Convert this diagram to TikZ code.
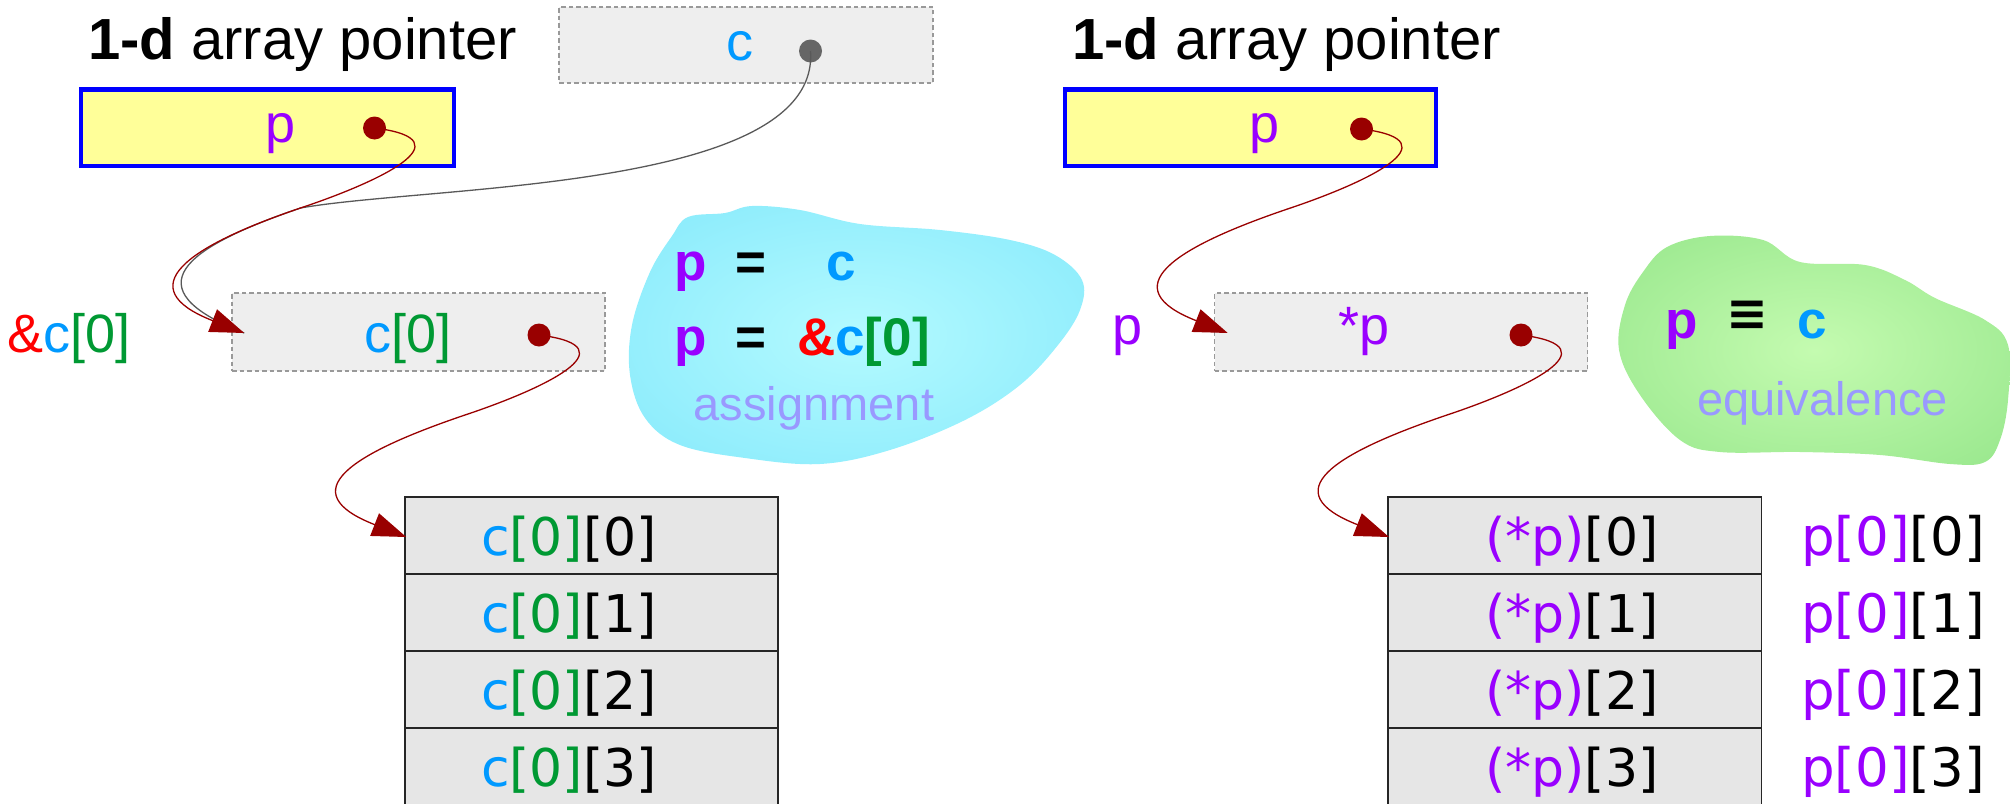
\documentclass[tikz,border=0pt]{standalone}
\usepackage{fontspec}
\setmainfont{Liberation Sans}
\newfontfamily\dvfont{DejaVu Sans}
\usetikzlibrary{arrows.meta,calc}
\definecolor{cpur}{HTML}{9900FF}
\definecolor{cblu}{HTML}{0099FF}
\definecolor{cgrn}{HTML}{009933}
\definecolor{cred}{HTML}{FF0000}
\definecolor{clav}{HTML}{9999FF}
\definecolor{cdred}{HTML}{990000}
\definecolor{cdot}{HTML}{666666}
\definecolor{cyel}{HTML}{FFFF99}
\definecolor{cbox}{HTML}{EEEEEE}
\definecolor{ccell}{HTML}{E6E6E6}
\definecolor{bin}{HTML}{B4FAFF}
\definecolor{bout}{HTML}{74E3FA}
\definecolor{gin}{HTML}{C4FBB0}
\definecolor{gout}{HTML}{86DF7E}
\pgfdeclareradialshading{blueblob}{\pgfpoint{0bp}{0bp}}{color(0bp)=(bin); color(50bp)=(bout); color(75bp)=(bout)}
\pgfdeclareradialshading{greenblob}{\pgfpoint{0bp}{0bp}}{color(0bp)=(gin); color(50bp)=(gout); color(75bp)=(gout)}
\begin{document}
\begin{tikzpicture}[x=1pt,y=-1pt,
  ybox/.style={draw=blue, fill=cyel, line width=4.5pt, inner sep=0pt, minimum height=76.5pt},
  dbox/.style={draw=black!40, fill=cbox, line width=1.5pt, dash pattern=on 4.5pt off 3pt, inner sep=0pt, minimum height=77pt},
  cellbox/.style={draw=black!85, fill=ccell, line width=1.5pt, inner sep=0pt, minimum height=77pt},
  rdot/.style={circle, fill=cdred, inner sep=0pt, minimum size=23pt},
  gdot/.style={circle, fill=cdot, inner sep=0pt, minimum size=23pt},
  ttl/.style={inner sep=0pt, anchor=base west, font=\fontsize{58}{64}\selectfont},
  t54/.style={inner sep=0pt, anchor=base, font=\fontsize{54}{60}\selectfont},
  d52/.style={inner sep=0pt, anchor=base, font=\dvfont\fontsize{52}{60}\selectfont},
  d53/.style={inner sep=0pt, anchor=base, font=\dvfont\fontsize{53}{60}\selectfont},
  b53/.style={inner sep=0pt, anchor=base west, font=\bfseries\fontsize{53}{60}\selectfont},
  l47/.style={inner sep=0pt, anchor=base, text=clav, font=\fontsize{47}{54}\selectfont},
  rarrow/.style={draw=cdred, line width=1.3pt, -{Triangle[length=34pt,width=24pt]}},
  garrow/.style={draw=black!65, line width=1.3pt}
]
\useasboundingbox (0,0) rectangle (2010,803);

% blobs
\shade[shading=blueblob] plot[smooth cycle, tension=0.6] coordinates {
  (688,217) (725,213) (752,206) (800,210) (860,224) (940,230) (1010,240)
  (1055,255) (1082,280) (1080,310) (1058,345) (1020,385) (965,420) (890,450)
  (820,464) (745,458) (680,445) (645,418) (630,375) (632,325) (650,272) (672,236)};
\shade[shading=greenblob] plot[smooth cycle, tension=0.6] coordinates {
  (1667,247) (1710,236) (1763,240) (1800,262) (1865,265) (1905,280) (1935,298)
  (1985,320) (2008,345) (2008,400) (2000,440) (1985,462) (1950,464) (1880,455)
  (1800,452) (1720,452) (1680,440) (1640,395) (1619,350) (1625,305) (1643,272)};

% titles
\node[ttl] (tl) at (88,59) {\textbf{1-d} array pointer};
\node[ttl] (tr) at (1072,59) {\textbf{1-d} array pointer};

% top c box
\node[dbox, minimum width=374pt, minimum height=76pt] (cb) at (746,45) {};
\node[t54, text=cblu] (cbt) at (740,60) {c};
\node[gdot] (cd) at (810.5,51) {};

% yellow pointer boxes
\node[ybox, minimum width=373pt] (pL) at (267.5,127.75) {};
\node[t54, text=cpur] (pLt) at (280.5,142) {p};
\node[rdot] (pLd) at (374.5,128) {};
\node[ybox, minimum width=371pt] (pR) at (1250.5,127.75) {};
\node[t54, text=cpur] (pRt) at (1264,142) {p};
\node[rdot] (pRd) at (1361.5,129) {};

% middle boxes
\node[dbox, minimum width=373pt, minimum height=78pt] (mL) at (418.5,332) {};
\node[t54] (mLt) at (408,352) {\textcolor{cblu}{c}\textcolor{cgrn}{[0]}};
\node[rdot] (mLd) at (539,335) {};
\node[t54] (amp) at (69,352) {\textcolor{cred}{\&}\textcolor{cblu}{c}\textcolor{cgrn}{[0]}};

\node[dbox, minimum width=373pt, minimum height=78pt] (mR) at (1401,332) {};
\node[t54, text=cpur] (mRt) at (1364,344) {*p};
\node[rdot] (mRd) at (1521,335) {};
\node[t54, text=cpur] (plab) at (1127.5,344) {p};

% arrays
\foreach \i in {0,...,3}{
  \node[cellbox, minimum width=373pt] (cl\i) at (591.5,535.5+77*\i) {};
  \node[d52] (clt\i) at (569,555+77*\i) {\textcolor{cblu}{c}\textcolor{cgrn}{[0]}[\i]};
  \node[cellbox, minimum width=373.5pt] (cr\i) at (1574.5,535.5+77*\i) {};
  \node[d52] (crt\i) at (1572,555+77*\i) {\textcolor{cpur}{(*p)}[\i]};
  \node[d53] (prt\i) at (1893,555+77*\i) {\textcolor{cpur}{p[0]}[\i]};
}

% blob texts
\node[b53, text=cpur] (a1p) at (674,280) {p};
\node[b53] (a1e) at (735,280) {=};
\node[b53, text=cblu] (a1c) at (826,280) {c};
\node[b53, text=cpur] (a2p) at (674,355) {p};
\node[b53] (a2e) at (735,355) {=};
\node[b53] (a2c) at (797,355) {\textcolor{cred}{\&}\textcolor{cblu}{c}\textcolor{cgrn}{[0]}};
\node[l47] (asg) at (814,420) {assignment};

\node[b53, text=cpur] (e1p) at (1665,338) {p};
\node[inner sep=0pt, font=\dvfont\bfseries\fontsize{50}{60}\selectfont] (e1e) at (1747.5,315.5) {≡};
\node[b53, text=cblu] (e1c) at (1797,338) {c};
\node[l47] (eqv) at (1822.5,415) {equivalence};

% arrow targets
\coordinate (t1) at ($(mL.west)+(13,1)$);
\coordinate (t2) at ($(mR.west)+(14,1)$);
\coordinate (t3) at ($(cl0.west)+(2,1.5)$);
\coordinate (t4) at ($(cr0.west)+(2,1.5)$);

% connectors
\draw[garrow] (cd.center) .. controls +(10,140) and +(130,-23) .. ($(pLd)+(-74,80)$)
  .. controls +(-115,39) and +(-115,-45) .. (t1);
\draw[rarrow] (pLd.center) .. controls +(96,12) and +(75,-25) .. ($(pLd)+(-74,80)$)
  .. controls +(-115,39) and +(-115,-45) .. (t1);
\draw[rarrow] (pRd.center) .. controls +(96,12) and +(75,-25) .. ($(pRd)+(-74,80)$)
  .. controls +(-115,39) and +(-115,-45) .. (t2);
\draw[rarrow] (mLd.center) .. controls +(96,12) and +(75,-25) .. ($(mLd)+(-74,80)$)
  .. controls +(-115,39) and +(-115,-45) .. (t3);
\draw[rarrow] (mRd.center) .. controls +(96,12) and +(75,-25) .. ($(mRd)+(-74,80)$)
  .. controls +(-115,39) and +(-115,-45) .. (t4);
\end{tikzpicture}
\end{document}
